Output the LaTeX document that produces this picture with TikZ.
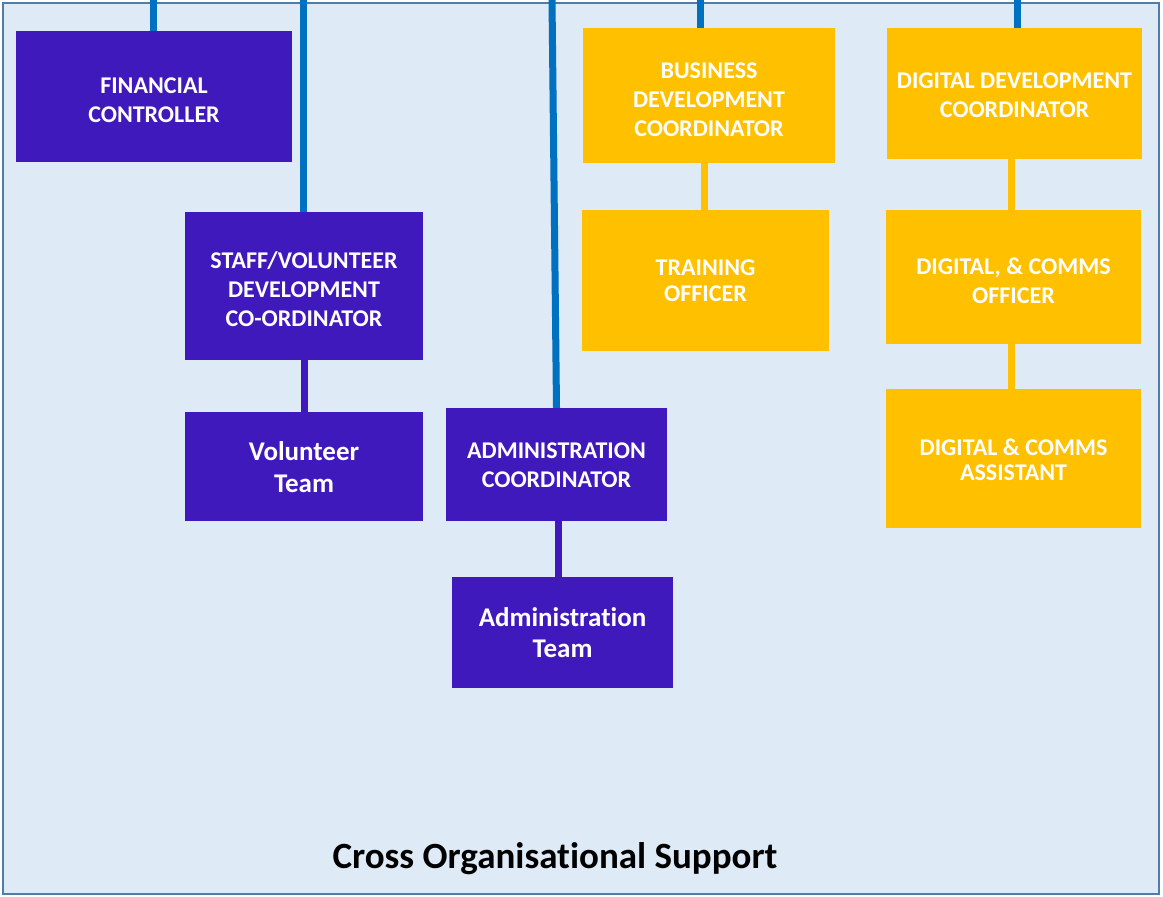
\documentclass[tikz,border=0pt]{standalone}
\usepackage{fontspec}
\setmainfont{Carlito}[Ligatures=NoCommon]
\definecolor{bgblue}{RGB}{222,234,246}
\definecolor{frameblue}{RGB}{80,125,168}
\definecolor{lineblue}{RGB}{0,112,192}
\definecolor{rolepurple}{RGB}{64,25,189}
\definecolor{roleyellow}{RGB}{255,192,0}
\begin{document}
\begin{tikzpicture}[x=1pt,y=-1pt,
  box/.style={rectangle, inner sep=0pt},
  pbox/.style={box, fill=rolepurple},
  ybox/.style={box, fill=roleyellow},
  lbl/.style={inner sep=0pt, text=white, align=center, font=\bfseries\fontsize{24}{29}\selectfont},
  team/.style={lbl, font=\bfseries\fontsize{27}{32}\selectfont},
  topline/.style={draw=lineblue, line width=7pt},
  plink/.style={draw=rolepurple, line width=7pt},
  ylink/.style={draw=roleyellow, line width=7pt}]
\useasboundingbox (0,0) rectangle (1163,897);
\fill[bgblue] (3,3) rectangle (1159,894);
\draw[frameblue, line width=2.5pt] (3,3) rectangle (1159,894);

% boxes
\node[pbox, minimum width=276pt, minimum height=131pt] (fin) at (154,96.5) {};
\node[pbox, minimum width=238pt, minimum height=148pt] (staff) at (304,286) {};
\node[pbox, minimum width=238pt, minimum height=109pt] (vol) at (304,466.5) {};
\node[pbox, minimum width=221pt, minimum height=113pt] (admc) at (556.5,464.5) {};
\node[pbox, minimum width=221pt, minimum height=111pt] (admt) at (562.5,632.5) {};
\node[ybox, minimum width=252pt, minimum height=135pt] (bus) at (709,95.5) {};
\node[ybox, minimum width=247pt, minimum height=141pt] (train) at (705.5,280.5) {};
\node[ybox, minimum width=255pt, minimum height=131pt] (ddc) at (1014.5,93.5) {};
\node[ybox, minimum width=255pt, minimum height=134pt] (dco) at (1013.5,277) {};
\node[ybox, minimum width=255pt, minimum height=139pt] (dca) at (1013.5,458.5) {};

% texts
\node[lbl] (finT) at ([yshift=-3.5pt]fin.center) {FINANCIAL\\CONTROLLER};
\node[lbl] (staffT) at ([yshift=-3pt]staff.center) {STAFF/VOLUNTEER\\DEVELOPMENT\\CO-ORDINATOR};
\node[team] (volT) at ([yshift=-1pt]vol.center) {Volunteer\\Team};
\node[lbl] (admcT) at ([yshift=-1pt]admc.center) {ADMINISTRATION\\COORDINATOR};
\node[team, font=\bfseries\fontsize{27}{31}\selectfont] (admtT) at (admt.center) {Administration\\Team};
\node[lbl] (busT) at ([yshift=-4pt]bus.center) {BUSINESS\\DEVELOPMENT\\COORDINATOR};
\node[lbl, font=\bfseries\fontsize{24}{26}\selectfont] (trainT) at ([yshift=0pt]train.center) {TRAINING\\OFFICER};
\node[lbl] (ddcT) at ([yshift=-2pt]ddc.center) {DIGITAL DEVELOPMENT\\COORDINATOR};
\node[lbl] (dcoT) at ([yshift=-3.5pt]dco.center) {DIGITAL, \& COMMS\\OFFICER};
\node[lbl, font=\bfseries\fontsize{24}{25}\selectfont] (dcaT) at ([yshift=-1pt]dca.center) {DIGITAL \& COMMS\\ASSISTANT};

\node[font=\bfseries\fontsize{37}{44}\selectfont, text=black] (title) at (555,859) {Cross Organisational Support};

\coordinate (t1) at (153,0);
\coordinate (t2) at (303.5,0);
\coordinate (t3) at (552,0);
\coordinate (t4) at (700,0);
\coordinate (t5) at (1017,0);
\coordinate (ax) at (558,0);
\coordinate (bx) at (704,0);
\coordinate (dx) at (1011,0);

\draw[topline] (t1) -- (t1 |- fin.north);
\draw[topline] (t2) -- (t2 |- staff.north);
\draw[topline] (t3) -- (admc.north);
\draw[topline] (t4) -- (t4 |- bus.north);
\draw[topline] (t5) -- (t5 |- ddc.north);

\draw[plink] (staff.south) -- (vol.north);
\draw[plink] (admc.south -| ax) -- (admt.north -| ax);
\draw[ylink] (bus.south -| bx) -- (train.north -| bx);
\draw[ylink] (ddc.south -| dx) -- (dco.north -| dx);
\draw[ylink] (dco.south -| dx) -- (dca.north -| dx);
\end{tikzpicture}
\end{document}
